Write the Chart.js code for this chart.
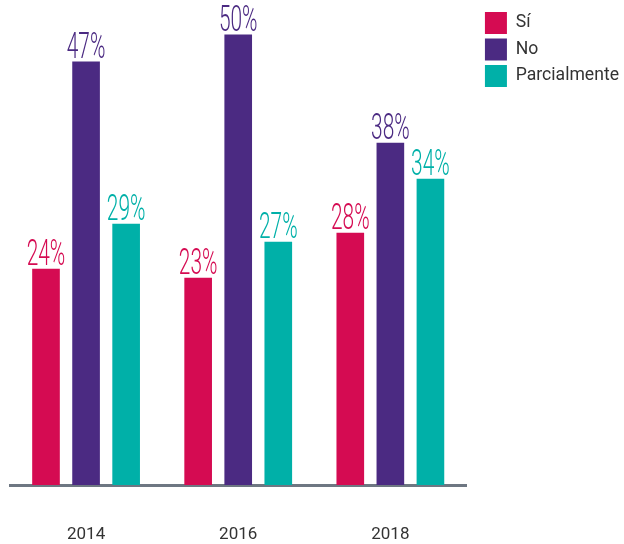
<!DOCTYPE html>
<html>
<head>
<meta charset="utf-8">
<script src="https://cdn.jsdelivr.net/npm/chart.js@4/dist/chart.umd.min.js"></script>
<style>
  html, body { margin: 0; padding: 0; background: #ffffff; }
  #wrap { width: 624px; height: 544px; }
</style>
</head>
<body>
<div id="wrap"><canvas id="c" width="624" height="544"></canvas></div>
<script>
const categories = ['2014', '2016', '2018'];
const seriesNames = ['Sí', 'No', 'Parcialmente'];
const siValues = [24, 23, 28];
const noValues = [47, 50, 38];
const parcialValues = [29, 27, 34];
const seriesColors = ['#D50B52', '#4B2A82', '#00B0A8'];

const valueLabels = {
  id: 'valueLabels',
  afterDatasetsDraw(chart) {
    const ctx = chart.ctx;
    chart.data.datasets.forEach((ds, di) => {
      const meta = chart.getDatasetMeta(di);
      meta.data.forEach((bar, i) => {
        const txt = ds.data[i] + '%';
        ctx.save();
        ctx.translate(bar.x, bar.y - 4);
        ctx.scale(0.58, 1);
        ctx.font = '300 36px Roboto';
        ctx.fillStyle = ds.backgroundColor;
        ctx.textAlign = 'center';
        ctx.textBaseline = 'alphabetic';
        ctx.fillText(txt, 0, 0);
        ctx.restore();
      });
    });
  }
};

const allSeries = [siValues, noValues, parcialValues];

new Chart(document.getElementById('c'), {
  type: 'bar',
  data: {
    labels: categories,
    datasets: allSeries.map((vals, k) => ({
      label: seriesNames[k],
      data: vals,
      backgroundColor: seriesColors[k],
      borderWidth: 0,
      categoryPercentage: 0.79,
      barPercentage: 0.69
    }))
  },
  options: {
    responsive: false,
    animation: false,
    devicePixelRatio: 1,
    layout: { padding: { top: 7.5, left: 10, right: -5, bottom: 0 } },
    plugins: {
      tooltip: { enabled: false },
      legend: {
        position: 'right',
        align: 'start',
        labels: {
          boxWidth: 22,
          boxHeight: 22,
          padding: 4.5,
          color: '#333333',
          font: { family: 'Roboto', size: 17.6 }
        }
      }
    },
    scales: {
      x: {
        grid: { display: false, drawTicks: false },
        border: { display: true, color: '#6E7782', width: 3 },
        ticks: {
          padding: 40,
          color: '#333333',
          font: { family: 'Roboto', size: 17 }
        },
        afterFit(scale) { scale.height = 59; }
      },
      y: {
        position: 'right',
        min: 0,
        max: 53,
        grid: { display: false, drawTicks: false },
        border: { display: false },
        ticks: { display: false },
        afterFit(scale) { scale.width = 14; }
      }
    }
  },
  plugins: [valueLabels]
});
</script>
</body>
</html>
